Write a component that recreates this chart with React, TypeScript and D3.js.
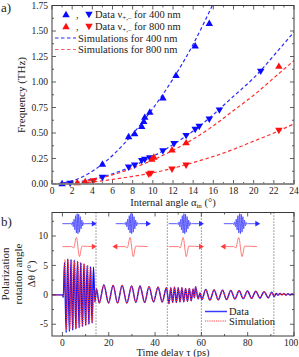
import { useEffect, useRef } from 'react';
import * as d3 from 'd3';

const WIDTH = 299;
const HEIGHT = 357;
const FONT = '"Liberation Serif", "Times New Roman", serif';

const BLUE = '#0a0aff';
const RED = '#ff1010';
const AXIS = '#3a3a3a';

// ---- panel a: frequency vs internal angle ---------------------------------
const X_TICKS_A = [0, 2, 4, 6, 8, 10, 12, 14, 16, 18, 20, 22, 24];
const Y_TICKS_A = [0, 0.25, 0.5, 0.75, 1.0, 1.25, 1.5, 1.75];

// measured points [angle (deg), frequency (THz)]
const DATA_400_UP = [
  [1.0, 0.0], [5.0, 0.19], [7.6, 0.46], [8.2, 0.49], [8.9, 0.56], [9.1, 0.61],
  [9.2, 0.65], [9.7, 0.7], [11.0, 0.84], [12.3, 1.06], [14.2, 1.35], [15.6, 1.57],
];
const DATA_400_DOWN = [
  [1.8, 0.012], [5.0, 0.07], [7.6, 0.17], [8.2, 0.19], [8.9, 0.235], [9.2, 0.245],
  [9.7, 0.26], [11.0, 0.33], [12.1, 0.4], [13.3, 0.48], [14.2, 0.54], [14.6, 0.57],
  [15.6, 0.64], [16.6, 0.73], [20.7, 1.11],
];
const DATA_800_UP = [
  [2.5, 0.01], [3.3, 0.02], [9.9, 0.24], [10.1, 0.26], [11.9, 0.33], [13.3, 0.4], [22.5, 1.15],
];
const DATA_800_DOWN = [
  [4.1, 0.035], [9.6, 0.1], [9.8, 0.11], [11.9, 0.15], [13.3, 0.19], [22.5, 0.53],
];

// simulated curves [angle, frequency]
const SIM_400_UP = [
  [0, 0], [2, 0.03], [4, 0.125], [6, 0.28], [8, 0.49], [10, 0.74], [12, 1.03],
  [14, 1.37], [16, 1.77],
];
const SIM_400_DOWN = [
  [0, 0], [2, 0.012], [4, 0.048], [6, 0.1], [8, 0.175], [10, 0.27], [12, 0.385],
  [14, 0.52], [16, 0.68], [18, 0.86], [20, 1.04], [22, 1.26], [24, 1.49],
];
const SIM_800_UP = [
  [0, 0], [2, 0.01], [4, 0.04], [6, 0.09], [8, 0.155], [10, 0.235], [12, 0.33],
  [14, 0.44], [16, 0.57], [18, 0.72], [20, 0.87], [22, 1.04], [24, 1.21],
];
const SIM_800_DOWN = [
  [0, 0], [2, 0.005], [4, 0.02], [6, 0.045], [8, 0.075], [10, 0.11], [12, 0.155],
  [14, 0.21], [16, 0.27], [18, 0.34], [20, 0.42], [22, 0.5], [24, 0.59],
];

// ---- panel b: polarization rotation vs time delay --------------------------
const X_TICKS_B = [0, 20, 40, 60, 80, 100];
const Y_TICKS_B = [-5, 0, 5, 10];

// extrema of the measured trace (ps, deg)
const DATA_T = [
  -4.5, 0, 0.4, 0.9, 1.6, 2.3, 3.0, 3.7, 4.4, 5.1, 5.8, 6.5, 7.2, 7.9, 8.6, 9.3, 10.0, 10.7,
  11.4, 12.1, 12.8, 13.4, 14.0, 14.7, 15.9, 17.9, 19.9, 21.9, 23.8, 25.8, 27.8, 29.9, 31.7,
  33.5, 35.5, 37.4, 39.3, 41.3, 43.1, 44.9, 46.0, 46.8, 47.6, 48.4, 49.2, 50.0, 50.8, 51.6,
  52.4, 53.2, 54.0, 54.8, 55.6, 56.4, 57.0, 57.5, 58.6, 59.4, 60.2, 61.9, 63.7, 65.5, 67.3,
  69.1, 70.9, 72.7, 74.5, 76.3, 78.1, 79.9, 81.7, 83.5, 85.3, 87.1, 88.9, 90.4, 91.4, 92.3,
  93.1, 94.0, 94.8, 95.7, 96.5, 97.4, 98.2, 99.1, 100,
];
const DATA_V = [
  0, 0, -0.4, 5.5, -6.4, 6.1, -6.2, 6.0, -6.0, 5.9, -5.8, 5.7, -5.6, 5.5, -5.4, 5.3, -5.2, 5.0,
  -5.0, 4.8, -4.8, 4.7, -1.2, 1.0, -1.4, 1.7, -1.4, 1.6, -1.4, 1.6, -1.4, 1.5, -1.3,
  1.5, -1.3, 1.4, -1.2, 1.3, -1.2, 1.2, -1.5, 1.2, -1.3, 1.3, -1.3, 1.2, -1.2, 1.2,
  -1.2, 1.1, -1.1, 1.1, -1.0, 1.0, -0.5, 1.4, -0.7, 0.3, -0.8, 0.9, -0.9, 0.85, -0.85,
  0.8, -0.8, 0.75, -0.7, 0.7, -0.65, 0.65, -0.6, 0.6, -0.55, 0.55, -0.5, 0.45, -0.3, 0.25,
  -0.05, 0.25, 0.0, 0.2, -0.05, 0.2, 0.0, 0.15, 0.05,
];
// simulation differs from the data only in the first pulse train
const SIM_COMB_T = [
  -4.5, 0, 0.5, 1.1, 1.8, 2.5, 3.2, 3.9, 4.6, 5.3, 6.0, 6.7, 7.4, 8.1, 8.8, 9.5, 10.2, 10.9,
  11.6, 12.3, 12.9, 13.5,
];
const SIM_COMB_V = [
  0, 0, -0.3, 5.9, -5.9, 6.0, -5.9, 5.9, -5.8, 5.7, -5.7, 5.6, -5.5, 5.4, -5.3, 5.2, -5.1, 5.0,
  -4.9, 4.6, -4.6, 1.0,
];

// vertical markers (ps)
const DIVIDERS = [14.5, 45.3, 60, 91.3];

// schematic pulses drawn above the trace
const INSET_START = [0, 23, 45.9, 69.7];
const INSET_END = [13.4, 36.8, 59.7, 84];
const INSET_RED_DIR = ['right', 'left', 'right', 'left'];
const PACKET_U = [
  0, 0.25, 0.275, 0.3, 0.325, 0.35, 0.375, 0.4, 0.425, 0.45, 0.475, 0.5, 0.525, 0.55, 0.575,
  0.6, 0.625, 0.65, 0.675, 0.7, 0.725, 0.75, 1,
];
const PACKET_V = [
  0, 0, 0.05, -0.1, 0.18, -0.3, 0.45, -0.62, 0.8, -0.92, 1.0, -1.0, 0.95, -0.85, 0.7,
  -0.52, 0.36, -0.22, 0.12, -0.06, 0.03, 0, 0,
];
const PULSE_U = [0, 0.3, 0.36, 0.45, 0.55, 0.63, 1];
const PULSE_V = [0, 0, -0.15, 1.0, -1.1, 0.05, 0];

export default function App() {
  const svgRef = useRef(null);

  useEffect(() => {
    const svg = d3.select(svgRef.current);
    svg.selectAll('*').remove();
    svg.style('font-family', FONT);

    const addText = (x, y, str, size, anchor = 'start') =>
      svg
        .append('text')
        .attr('x', x)
        .attr('y', y)
        .attr('font-size', size)
        .attr('text-anchor', anchor)
        .attr('fill', '#222')
        .text(str);

    // Frame with inward ticks on all four sides.
    const frame = (x, y, xMajor, xMinor, yMajor, yMinor, xFmt, yFmt, xLabelDy) => {
      const [x0, x1] = x.range();
      const [y0, y1] = y.range();
      const g = svg.append('g');
      const tick = (ax, ay, bx, by) =>
        g.append('line').attr('x1', ax).attr('y1', ay).attr('x2', bx).attr('y2', by)
          .attr('stroke', AXIS).attr('stroke-width', 0.8);
      xMinor.forEach((v) => { tick(x(v), y0, x(v), y0 - 2); tick(x(v), y1, x(v), y1 + 2); });
      xMajor.forEach((v) => { tick(x(v), y0, x(v), y0 - 4); tick(x(v), y1, x(v), y1 + 4); });
      yMinor.forEach((v) => { tick(x0, y(v), x0 + 2, y(v)); tick(x1, y(v), x1 - 2, y(v)); });
      yMajor.forEach((v) => { tick(x0, y(v), x0 + 4, y(v)); tick(x1, y(v), x1 - 4, y(v)); });
      g.append('rect').attr('x', x0).attr('y', y1).attr('width', x1 - x0).attr('height', y0 - y1)
        .attr('fill', 'none').attr('stroke', AXIS).attr('stroke-width', 1);
      xMajor.forEach((v, i) => {
        const last = i === xMajor.length - 1 && String(xFmt(v)).length > 2;
        g.append('text').attr('x', x(v) - (last ? 3 : 0)).attr('y', y0 + xLabelDy)
          .attr('font-size', 9.5).attr('text-anchor', 'middle').attr('fill', '#222')
          .text(xFmt(v));
      });
      yMajor.forEach((v) => {
        g.append('text').attr('x', x0 - 4).attr('y', y(v) + 3.2).attr('font-size', 9.5)
          .attr('text-anchor', 'end').attr('fill', '#222').text(yFmt(v));
      });
      return g;
    };

    // ============================ panel a ==================================
    const xA = d3.scaleLinear().domain([0, 24]).range([52, 294]);
    const yA = d3.scaleLinear().domain([0, 1.75]).range([184, 5.5]);

    svg.append('defs').append('clipPath').attr('id', 'clip-a')
      .append('rect').attr('x', 52).attr('y', 5.5).attr('width', 242).attr('height', 178.5);

    const line = d3.line().x((d) => xA(d[0])).y((d) => yA(d[1])).curve(d3.curveNatural);
    const curves = svg.append('g').attr('clip-path', 'url(#clip-a)');
    [
      [SIM_400_UP, '#2a2aff'], [SIM_400_DOWN, '#2a2aff'],
      [SIM_800_UP, '#ff3030'], [SIM_800_DOWN, '#ff3030'],
    ].forEach(([pts, color]) => {
      curves.append('path').attr('d', line(pts)).attr('fill', 'none').attr('stroke', color)
        .attr('stroke-width', 1.2).attr('stroke-dasharray', '3.5,2.5');
    });

    const tri = d3.symbol(d3.symbolTriangle, 24);
    const markers = (pts, color, down) => {
      pts.forEach((p) => {
        svg.append('path').attr('d', tri())
          .attr('transform', `translate(${xA(p[0])},${yA(p[1])})${down ? ' rotate(180)' : ''}`)
          .attr('fill', color);
      });
    };
    markers(DATA_400_UP, BLUE, false);
    markers(DATA_400_DOWN, BLUE, true);
    markers(DATA_800_UP, RED, false);
    markers(DATA_800_DOWN, RED, true);

    frame(
      xA, yA, X_TICKS_A, d3.range(1, 24, 2), Y_TICKS_A, d3.range(0.125, 1.75, 0.25),
      (v) => String(v), (v) => v.toFixed(2), 10,
    );
    // grey zero baseline
    svg.append('line').attr('x1', 52).attr('x2', 294).attr('y1', yA(0)).attr('y2', yA(0))
      .attr('stroke', '#8a8a8a').attr('stroke-width', 1.6);

    // legend
    const legendRow = (y, color, label) => {
      svg.append('path').attr('d', tri()).attr('transform', `translate(66,${y - 3})`).attr('fill', color);
      addText(76, y, ',', 10);
      svg.append('path').attr('d', tri()).attr('transform', `translate(89,${y - 4}) rotate(180)`).attr('fill', color);
      const t = addText(95, y, 'Data ν', 10.5);
      t.append('tspan').attr('font-size', 7).attr('dy', 2).text('+,–');
      t.append('tspan').attr('dy', -2).text(` for ${label}`);
    };
    legendRow(18, BLUE, '400 nm');
    legendRow(30, RED, '800 nm');
    [[41.5, '#2a2aff', '400 nm'], [53, '#ff6060', '800 nm']].forEach(([y, color, label]) => {
      svg.append('line').attr('x1', 55).attr('x2', 76).attr('y1', y - 3.5).attr('y2', y - 3.5)
        .attr('stroke', color).attr('stroke-width', 1.2).attr('stroke-dasharray', '3.5,2.5');
      addText(78, y, `Simulations for ${label}`, 10.5);
    });

    addText(1, 12, 'a)', 13);
    const xlabA = addText(173, 206, 'Internal angle α', 10.5, 'middle');
    xlabA.append('tspan').attr('font-size', 7).attr('dy', 2).text('in');
    xlabA.append('tspan').attr('dy', -2).text(' (°)');
    svg.append('text').attr('transform', 'translate(25,95) rotate(-90)')
      .attr('text-anchor', 'middle').attr('font-size', 11).attr('fill', '#222')
      .text('Frequency (THz)');

    // ============================ panel b ==================================
    const xB = d3.scaleLinear().domain([-4.5, 100]).range([52, 294]);
    const yB = d3.scaleLinear().domain([-7, 14]).range([336, 212.5]);

    DIVIDERS.forEach((t) => {
      svg.append('line').attr('x1', xB(t)).attr('x2', xB(t)).attr('y1', 212.5).attr('y2', 336)
        .attr('stroke', '#555').attr('stroke-width', 0.9).attr('stroke-dasharray', '1.2,1.8');
    });

    // schematic pulses
    const arrow = d3.symbol(d3.symbolTriangle, 14);
    INSET_START.forEach((t0, i) => {
      const t1 = INSET_END[i];
      const u = d3.scaleLinear().domain([0, 1]).range([t0, t1]);
      const packet = d3.line()
        .x((_, k) => xB(u(PACKET_U[k])))
        .y((v) => yB(12.1 + 1.7 * v))
        .curve(d3.curveMonotoneX);
      svg.append('path').attr('d', packet(PACKET_V)).attr('fill', 'none')
        .attr('stroke', '#4a4aff').attr('stroke-width', 0.9);
      svg.append('path').attr('d', arrow())
        .attr('transform', `translate(${xB(t1)},${yB(12.1)}) rotate(90)`).attr('fill', '#2a2aff');

      const pulse = d3.line()
        .x((_, k) => xB(u(PULSE_U[k])))
        .y((v) => yB(8.2 + 1.55 * v))
        .curve(d3.curveMonotoneX);
      svg.append('path').attr('d', pulse(PULSE_V)).attr('fill', 'none')
        .attr('stroke', '#ff6b6b').attr('stroke-width', 0.9);
      const right = INSET_RED_DIR[i] === 'right';
      svg.append('path').attr('d', arrow())
        .attr('transform', `translate(${xB(right ? t1 : t0)},${yB(8.2)}) rotate(${right ? 90 : -90})`)
        .attr('fill', '#ff3a3a');
    });

    const trace = d3.line()
      .x((d) => xB(d[0]))
      .y((d) => yB(d[1]))
      .curve(d3.curveMonotoneX);
    const dataPts = DATA_T.map((t, k) => [t, DATA_V[k]]);
    const tailStart = DATA_T.indexOf(14.0);
    const simPts = SIM_COMB_T.map((t, k) => [t, SIM_COMB_V[k]])
      .concat(dataPts.slice(tailStart));

    svg.append('path').attr('d', trace(dataPts)).attr('fill', 'none')
      .attr('stroke', BLUE).attr('stroke-width', 1.4);
    svg.append('path').attr('d', trace(simPts)).attr('fill', 'none')
      .attr('stroke', '#ff2a2a').attr('stroke-width', 1.2).attr('stroke-dasharray', '1.2,1');

    frame(
      xB, yB, X_TICKS_B, [10, 30, 50, 70, 90], Y_TICKS_B, [-2.5, 2.5, 7.5, 12.5],
      (v) => String(v), (v) => String(v), 9.5,
    );

    // legend
    svg.append('line').attr('x1', 205).attr('x2', 227).attr('y1', 311.5).attr('y2', 311.5)
      .attr('stroke', '#3a3aff').attr('stroke-width', 1.5);
    addText(229, 315, 'Data', 10.5);
    svg.append('line').attr('x1', 205).attr('x2', 227).attr('y1', 321).attr('y2', 321)
      .attr('stroke', '#ff4040').attr('stroke-width', 1.2).attr('stroke-dasharray', '1.2,1');
    addText(229, 325, 'Simulation', 10.5);

    addText(1, 226, 'b)', 13);
    addText(173, 356, 'Time delay τ (ps)', 10.5, 'middle');
    [[9, 'Polarization'], [22, 'rotation angle'], [35, 'Δθ (°)']].forEach(([x, str]) => {
      svg.append('text').attr('transform', `translate(${x},274) rotate(-90)`)
        .attr('text-anchor', 'middle').attr('font-size', 11).attr('fill', '#222').text(str);
    });
  }, []);

  return (
    <svg
      ref={svgRef}
      width={WIDTH}
      height={HEIGHT}
      style={{ position: 'absolute', left: 0, top: 0, background: '#fff' }}
    />
  );
}
